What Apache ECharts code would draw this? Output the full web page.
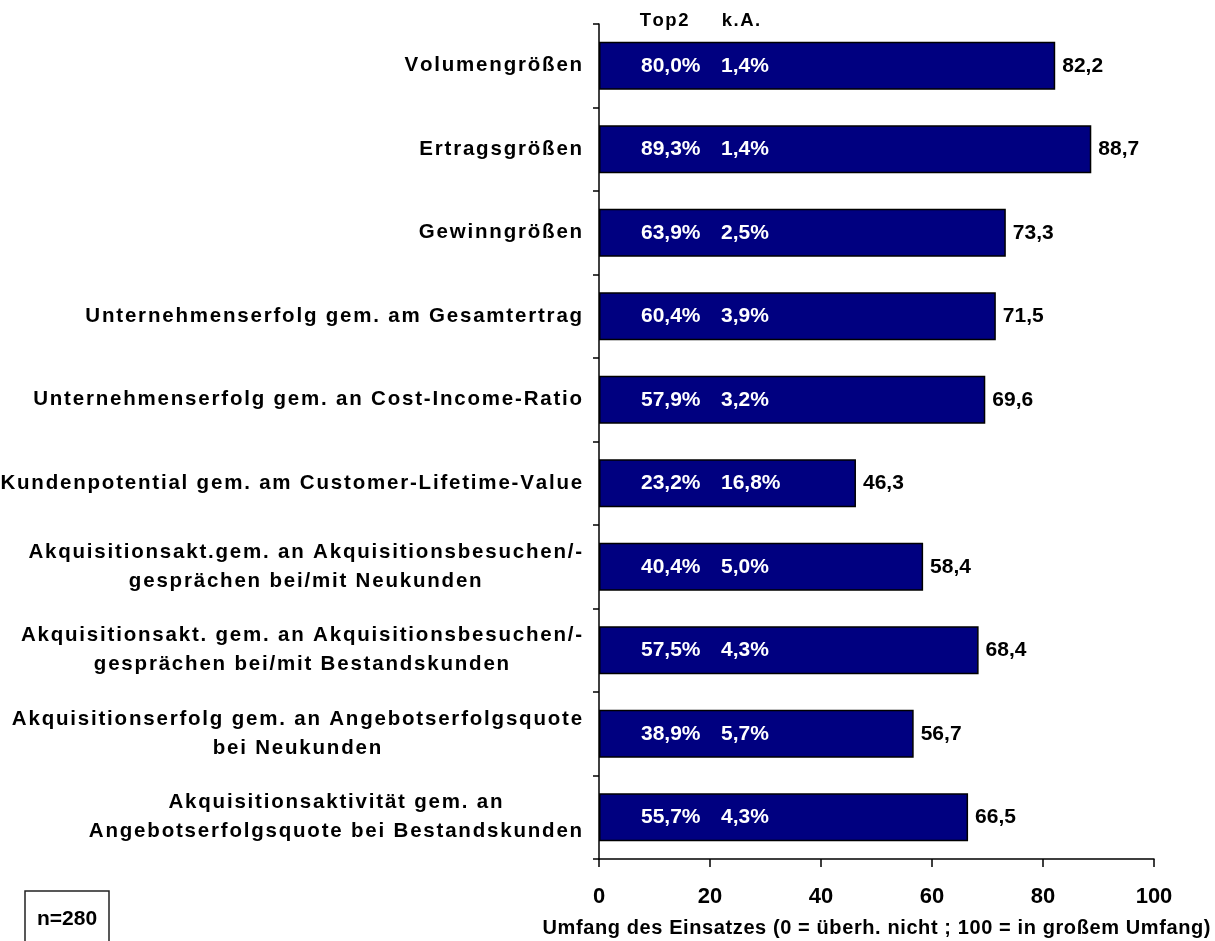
<!DOCTYPE html>
<html>
<head>
<meta charset="utf-8">
<script src="https://cdn.jsdelivr.net/npm/echarts@6/dist/echarts.min.js"></script>
<style>
  html, body { margin: 0; padding: 0; background: #fff; }
  #main { width: 1215px; height: 941px; }
</style>
</head>
<body>
<div id="main"></div>
<script>
// Daten
const categories = [
  'Volumengrößen',
  'Ertragsgrößen',
  'Gewinngrößen',
  'Unternehmenserfolg gem. am Gesamtertrag',
  'Unternehmenserfolg gem. an Cost-Income-Ratio',
  'Kundenpotential gem. am Customer-Lifetime-Value',
  'Akquisitionsakt.gem. an Akquisitionsbesuchen/-\ngesprächen bei/mit Neukunden',
  'Akquisitionsakt. gem. an Akquisitionsbesuchen/-\ngesprächen bei/mit Bestandskunden',
  'Akquisitionserfolg gem. an Angebotserfolgsquote\nbei Neukunden',
  'Akquisitionsaktivität gem. an\nAngebotserfolgsquote bei Bestandskunden'
];
const scores = [82.2, 88.7, 73.3, 71.5, 69.6, 46.3, 58.4, 68.4, 56.7, 66.5];
const top2 = [80.0, 89.3, 63.9, 60.4, 57.9, 23.2, 40.4, 57.5, 38.9, 55.7];
const keineAngabe = [1.4, 1.4, 2.5, 3.9, 3.2, 16.8, 5.0, 4.3, 5.7, 4.3];
const xTicks = [0, 20, 40, 60, 80, 100];
const columnHeads = ['Top2', 'k.A.'];
const axisTitle = 'Umfang des Einsatzes (0 = überh. nicht ; 100 = in großem Umfang)';
const sampleNote = 'n=280';

const FONT = "'Liberation Sans', Arial, sans-serif";

// Buchstaben einzeln als rich-Token, damit sie gesperrt wirken
function spaced(text, key) {
  return text.split('\n').map(line =>
    Array.from(line).map(ch => '{' + key + '|' + ch + '}').join('')
  ).join('\n');
}
function komma(v) {
  return v.toFixed(1).replace('.', ',');
}

let myChart = echarts.init(document.getElementById('main'));

let option = {
  animation: false,
  grid: { left: 599, right: 61, top: 24, bottom: 82, containLabel: false, outerBoundsMode: 'none' },
  xAxis: {
    type: 'value',
    min: xTicks[0],
    max: xTicks[xTicks.length - 1],
    interval: xTicks[1] - xTicks[0],
    splitLine: { show: false },
    axisLine: { show: true, lineStyle: { color: '#000', width: 1.5 } },
    axisTick: { show: true, length: 8, lineStyle: { color: '#000', width: 1.5 } },
    axisLabel: {
      margin: 27,
      fontSize: 22,
      fontWeight: 'bold',
      fontFamily: FONT,
      color: '#000'
    },
    name: spaced(axisTitle, 'n'),
    nameLocation: 'middle',
    nameGap: 59,
    nameTextStyle: {
      rich: {
        n: { fontSize: 20, fontWeight: 'bold', fontFamily: FONT, color: '#000', padding: [0, 0.3, 0, 0.3] }
      }
    }
  },
  yAxis: {
    type: 'category',
    data: categories,
    inverse: true,
    axisLine: { show: true, lineStyle: { color: '#000', width: 1.5 } },
    axisTick: { show: true, length: 6, lineStyle: { color: '#000', width: 1.5 } },
    axisLabel: {
      margin: 16,
      formatter: v => spaced(v, 'c'),
      rich: {
        c: {
          fontSize: 20.5, fontWeight: 'bold', fontFamily: FONT, color: '#000',
          padding: [0, 0.9, 0, 0.9], align: 'center', lineHeight: 29
        }
      }
    }
  },
  graphic: [
    {
      type: 'text', x: 639, y: 21,
      style: {
        text: spaced(columnHeads[0], 'h'), align: 'left', verticalAlign: 'middle',
        rich: { h: { fontSize: 18.5, fontWeight: 'bold', fontFamily: FONT, fill: '#000', padding: [0, 0.75, 0, 0.75] } }
      }
    },
    {
      type: 'text', x: 721, y: 21,
      style: {
        text: spaced(columnHeads[1], 'h'), align: 'left', verticalAlign: 'middle',
        rich: { h: { fontSize: 18.5, fontWeight: 'bold', fontFamily: FONT, fill: '#000', padding: [0, 0.75, 0, 0.75] } }
      }
    },
    {
      type: 'rect',
      shape: { x: 25, y: 891, width: 84, height: 70 },
      style: { fill: '#fff', stroke: '#222', lineWidth: 1.5 }
    },
    {
      type: 'text', x: 67, y: 919,
      style: {
        text: sampleNote, align: 'center', verticalAlign: 'middle',
        font: 'bold 21px ' + FONT, fill: '#000'
      }
    }
  ],
  series: [
    {
      name: 'Umfang',
      type: 'bar',
      data: scores,
      barCategoryGap: '42.5%',
      barGap: '-100%',
      itemStyle: { color: '#000080', borderColor: '#000', borderWidth: 1.5 },
      label: {
        show: true,
        position: 'right',
        distance: 7,
        formatter: p => komma(p.value),
        fontSize: 21, fontWeight: 'bold', fontFamily: FONT, color: '#000'
      }
    },
    {
      name: 'Top2',
      type: 'bar',
      data: scores,
      barCategoryGap: '42.5%',
      barGap: '-100%',
      silent: true,
      itemStyle: { color: 'rgba(0,0,0,0)', borderWidth: 0 },
      label: {
        show: true,
        position: [42, '50%'],
        align: 'left',
        verticalAlign: 'middle',
        formatter: p => komma(top2[p.dataIndex]) + '%',
        fontSize: 21, fontWeight: 'bold', fontFamily: FONT, color: '#fff'
      }
    },
    {
      name: 'k.A.',
      type: 'bar',
      data: scores,
      barCategoryGap: '42.5%',
      barGap: '-100%',
      silent: true,
      itemStyle: { color: 'rgba(0,0,0,0)', borderWidth: 0 },
      label: {
        show: true,
        position: [122, '50%'],
        align: 'left',
        verticalAlign: 'middle',
        formatter: p => komma(keineAngabe[p.dataIndex]) + '%',
        fontSize: 21, fontWeight: 'bold', fontFamily: FONT, color: '#fff'
      }
    }
  ]
};

myChart.setOption(option);
</script>
</body>
</html>
